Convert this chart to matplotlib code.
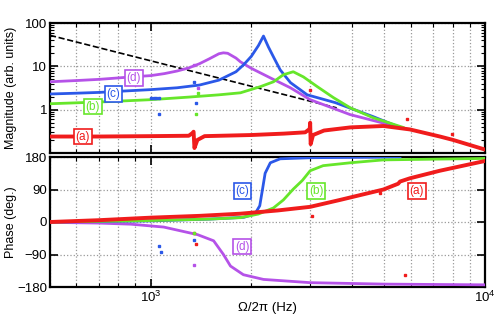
import numpy as np
import matplotlib
matplotlib.use("Agg")
import matplotlib.pyplot as plt
from matplotlib.ticker import FixedLocator, LogLocator, NullFormatter, NullLocator

plt.rcParams['font.family'] = ['Liberation Sans', 'DejaVu Sans']

# ---- data (frequency in Hz) ----
# (a) red
fa_mag = [500, 700, 1000, 1300, 1335, 1344, 1352, 1380, 1450, 2000, 2500, 2900, 2990, 3000, 3010, 3060,
          3300, 3957, 4970, 5960, 7330, 8030, 10000]
a_mag = [0.24, 0.24, 0.245, 0.25, 0.29, 0.31, 0.13, 0.2, 0.245, 0.26, 0.28, 0.3, 0.36, 0.5, 0.16, 0.26,
         0.33, 0.39, 0.42, 0.35, 0.24, 0.2, 0.12]
fa_ph = [500, 700, 1000, 1400, 1856, 2400, 3000, 3680, 4970, 5500, 5570, 5960, 7330, 10000]
a_ph = [0, 5, 12, 17, 23, 32, 42, 61, 90, 106, 112, 121, 142, 169]

# (b) green
fb_mag = [500, 700, 1000, 1300, 1600, 1856, 2130, 2330, 2494, 2670, 2864, 3150, 3520, 3957, 4633, 5690]
b_mag = [1.37, 1.5, 1.7, 1.95, 2.2, 2.45, 3.4, 4.4, 6.4, 7.5, 5.7, 3.4, 1.9, 1.1, 0.65, 0.39]
fb_ph = [500, 1000, 1500, 1856, 2100, 2330, 2494, 2670, 2842, 3000, 3280, 3957, 4970, 10000]
b_ph = [0, 4, 8, 12, 22, 39, 61, 91, 115, 142, 156, 164, 172, 176]

# (c) blue
fc_mag = [500, 600, 700, 800, 1000, 1200, 1400, 1600, 1800, 1900, 2000, 2100, 2175, 2250, 2330,
          2440, 2620, 2940, 3570, 4630, 5570]
c_mag = [2.3, 2.4, 2.5, 2.65, 2.9, 3.2, 3.7, 4.8, 7.5, 11, 17, 30, 50, 28, 16.5,
         8.3, 4.2, 2.2, 1.45, 0.69, 0.39]
fc_ph = [500, 1000, 1500, 1900, 2050, 2120, 2160, 2200, 2280, 2440, 3000, 4000, 5570]
c_ph = [0, 3, 8, 13, 22, 45, 90, 135, 164, 175, 178, 179, 180]

# (d) magenta
fd_mag = [500, 600, 700, 800, 900, 1000, 1100, 1200, 1300, 1400, 1500, 1600, 1650, 1700, 1800,
          1856, 2000, 2282, 2618, 3000, 3950, 5570]
d_mag = [4.4, 4.7, 5.0, 5.4, 5.8, 6.1, 6.8, 7.8, 9.2, 11.5, 15, 19.5, 20.5, 20, 15.5,
         12.7, 9.0, 5.4, 3.2, 1.7, 0.77, 0.39]
fd_ph = [500, 700, 871, 1094, 1381, 1543, 1651, 1733, 1894, 2175, 3000, 5000, 10000]
d_ph = [-1, -3, -6, -14, -35, -52, -90, -122, -146, -159, -168, -172, -174]

# dashed guide line
f_guide = [500, 3600]
m_guide = [52, 1.1]

# stray measurement points
out_mag = {
    'a': ([3000, 5850, 7960], [2.9, 0.62, 0.27]),
    'b': ([1363, 1381], [0.8, 2.4]),
    'c': ([1000, 1020, 1040, 1056, 1056, 1344, 1363], [1.9, 1.9, 1.9, 1.9, 0.78, 4.3, 1.4]),
    'd': ([1344, 1381], [11, 3.1]),
}
out_ph = {
    'a': ([1344, 1363, 3042, 4860, 5770], [-30, -60, 18, 80, -147]),
    'b': ([1344], [-30]),
    'c': ([1056, 1071, 1344], [-66, -82, -50]),
    'd': ([1344], [-120]),
}

colors = {'a': '#f01c1c', 'b': '#66e62a', 'c': '#2b58e8', 'd': '#b552e8'}

fig = plt.figure(figsize=(5.04, 3.27), dpi=100)
ax1 = fig.add_axes([50 / 504, 174 / 327, 435 / 504, 130 / 327])
ax2 = fig.add_axes([50 / 504, 40 / 327, 435 / 504, 130 / 327])

ax1.plot(f_guide, m_guide, '--', color='k', lw=1.2, zorder=2)
ax1.plot(fd_mag, d_mag, color=colors['d'], lw=2.0, zorder=3)
ax1.plot(fc_mag, c_mag, color=colors['c'], lw=2.0, zorder=3)
ax1.plot(fb_mag, b_mag, color=colors['b'], lw=2.0, zorder=3)
ax1.plot(fa_mag, a_mag, color=colors['a'], lw=2.8, zorder=4)

ax2.plot(fd_ph, d_ph, color=colors['d'], lw=2.0, zorder=3)
ax2.plot(fc_ph, c_ph, color=colors['c'], lw=2.0, zorder=3)
ax2.plot(fb_ph, b_ph, color=colors['b'], lw=2.0, zorder=3)
ax2.plot(fa_ph, a_ph, color=colors['a'], lw=2.8, zorder=4)

for k in 'abcd':
    ax1.plot(*out_mag[k], 's', ms=2, color=colors[k], zorder=4)
    ax2.plot(*out_ph[k], 's', ms=2, color=colors[k], zorder=4)

def tag(ax, x, y, s, k):
    ax.text(x, y, s, color=colors[k], fontsize=8.5, ha='center', va='center', zorder=6,
            bbox=dict(boxstyle='square,pad=0.15', fc='white', ec=colors[k], lw=1.2))

tag(ax1, 627, 0.24, '(a)', 'a')
tag(ax1, 671, 1.17, '(b)', 'b')
tag(ax1, 775, 2.33, '(c)', 'c')
tag(ax1, 890, 5.4, '(d)', 'd')
tag(ax2, 6260, 86, '(a)', 'a')
tag(ax2, 3130, 86, '(b)', 'b')
tag(ax2, 1880, 86, '(c)', 'c')
tag(ax2, 1880, -68, '(d)', 'd')

for ax in (ax1, ax2):
    ax.set_xscale('log')
    ax.set_xlim(500, 10000)
    ax.grid(True, which='major', axis='both', ls=':', color='#999999', lw=0.9)
    ax.grid(True, which='minor', axis='x', ls=':', color='#999999', lw=0.9)
    ax.tick_params(which='both', direction='in', top=True, right=True, labelsize=9.5, pad=2)
    ax.tick_params(which='major', length=6, width=1.2)
    ax.tick_params(which='minor', length=3, width=0.8)
    for sp in ax.spines.values():
        sp.set_linewidth(1.6)

ax1.set_yscale('log')
ax1.set_ylim(0.1, 100)
ax1.yaxis.set_major_locator(FixedLocator([0.1, 1, 10, 100]))
ax1.set_yticklabels(['', '1', '10', '100'])
ax1.yaxis.set_minor_locator(LogLocator(base=10, subs=np.arange(2, 10)))
ax1.yaxis.set_minor_formatter(NullFormatter())
ax1.tick_params(axis='x', which='both', labelbottom=False)
ax1.set_ylabel('Magnitude (arb. units)', fontsize=9)
ax1.yaxis.set_label_coords(-0.076, 0.5)

ax2.set_ylim(-180, 180)
ax2.yaxis.set_major_locator(FixedLocator([-180, -90, 0, 90, 180]))
ax2.set_yticklabels(['\u2212180', '\u221290', '0', '90', '180'])
ax2.yaxis.set_minor_locator(NullLocator())
ax2.set_ylabel('Phase (deg.)', fontsize=9)
ax2.yaxis.set_label_coords(-0.076, 0.5)
ax2.set_xlabel('\u03a9/2\u03c0 (Hz)', fontsize=9.5, labelpad=-2)

fig.savefig('out.png', dpi=100)
